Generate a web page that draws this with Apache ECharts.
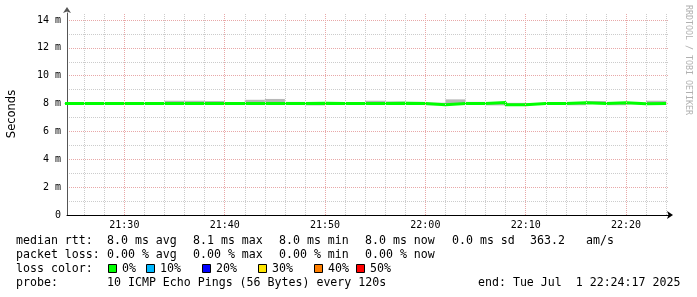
<!DOCTYPE html>
<html><head><meta charset="utf-8">
<script src="https://cdn.jsdelivr.net/npm/echarts@6/dist/echarts.min.js"></script>
<style>html,body{margin:0;padding:0;background:#fff}#c{width:697px;height:297px}</style>
</head><body><div id="c"></div>
<script>
// time in minutes after 21:00
const startMin = 24 + 17/60;   // 21:24:17
const endMin = 84 + 17/60;     // 22:24:17
const stepStarts = [24,26,28,30,32,34,36,38,40,42,44,46,48,50,52,54,56,58,60,62,64,66,68,70,72,74,76,78,80,82,84];
const medianRtt = [8.0,8.0,8.0,8.0,8.0,8.0,8.0,8.0,8.0,8.0,8.0,8.0,8.03,8.0,8.0,8.0,8.02,8.0,7.92,8.0,8.0,8.07,7.92,8.0,8.0,8.05,8.0,8.05,7.98,8.0];
const smokeLow  = [7.97,7.97,7.97,7.97,7.97,7.97,7.97,7.97,7.97,7.97,7.97,7.97,7.87,7.97,7.97,7.97,7.97,7.97,7.88,7.97,7.97,7.87,7.88,7.97,7.97,7.88,7.97,7.88,7.95,7.97];
const smokeHigh = [8.03,8.03,8.03,8.03,8.03,8.2,8.2,8.18,8.1,8.27,8.33,8.12,8.08,8.1,8.1,8.2,8.15,8.12,8.06,8.3,8.12,8.1,8.05,8.03,8.03,8.08,8.18,8.08,8.02,8.2];
const xTickValues = [30,40,50,60,70,80];
const xTickLabels = ['21:30','21:40','21:50','22:00','22:10','22:20'];
const minorXGrid = [26,28,30,32,34,36,38,40,42,44,46,48,50,52,54,56,58,60,62,64,66,68,70,72,74,76,78,80,82,84];
const yMax = 14.5;
const yTickLabels = {0:'0',2:'2 m',4:'4 m',6:'6 m',8:'8 m',10:'10 m',12:'12 m',14:'14 m'};

const legendLines = [
  [[16,'median rtt:'],[107,'8.0 ms avg'],[193,'8.1 ms max'],[279,'8.0 ms min'],[365,'8.0 ms now'],[452,'0.0 ms sd'],[530,'363.2'],[586,'am/s']],
  [[16,'packet loss:'],[107,'0.00 % avg'],[193,'0.00 % max'],[279,'0.00 % min'],[365,'0.00 % now']],
  [[16,'loss color:'],[122,'0%'],[160,'10%'],[216,'20%'],[272,'30%'],[328,'40%'],[370,'50%']],
  [[16,'probe:'],[107,'10 ICMP Echo Pings (56 Bytes) every 120s'],[478,'end: Tue Jul  1 22:24:17 2025']]
];
const lossColors = [[108,'#00ff00'],[146,'#00b8ff'],[202,'#0000ff'],[258,'#ffe600'],[314,'#ff7f00'],[356,'#ff0000']];
const lineY = [241,255,269,283];

const MAJOR = '#e8a8a8', MINOR = '#cccccc';
const mono = '"DejaVu Sans Mono", monospace';

const graphics = [];
legendLines.forEach((segs, li) => segs.forEach(([x, t]) => graphics.push({
  type:'text', x: x, y: lineY[li], silent:true,
  style:{text:t, font:'11.6px ' + mono, fill:'#000', textVerticalAlign:'middle', verticalAlign:'middle'}
})));
lossColors.forEach(([x,c]) => graphics.push({
  type:'rect', shape:{x:x+0.5, y:264.5, width:8, height:8}, silent:true,
  style:{fill:c, stroke:'#000', lineWidth:1}
}));
graphics.push({
  type:'text', x:688, y:5, rotation:-Math.PI/2, silent:true,
  style:{text:'RRDTOOL / TOBI OETIKER', font:'8.3px ' + mono, fill:'#b0b0b0', textVerticalAlign:'middle', verticalAlign:'middle'}
});

const ySplitColors = [];
for (let i = 0; i <= 15; i++) ySplitColors.push(i === 15 ? 'rgba(0,0,0,0)' : (i % 2 === 0 ? MAJOR : MINOR));

const smokeData = smokeLow.map((lo, i) => [stepStarts[i], stepStarts[i+1], lo, smokeHigh[i]]);
const medianData = stepStarts.map((t, i) => [t, medianRtt[Math.min(i, medianRtt.length - 1)]]);

const chart = echarts.init(document.getElementById('c'), null, {renderer:'canvas'});
chart.setOption({
  animation:false,
  backgroundColor:'#fff',
  grid:{left:67, right:28, top:13, bottom:82, containLabel:false, outerBoundsMode:'none'},
  xAxis:{
    type:'value', min:startMin, max:endMin,
    axisLine:{show:true, lineStyle:{color:'#000', width:1}, symbol:['none','arrow'], symbolSize:[6,6], symbolOffset:[0,4]},
    axisTick:{show:false},
    splitLine:{show:false},
    axisLabel:{customValues:xTickValues, formatter:v => xTickLabels[xTickValues.indexOf(Math.round(v))] || '',
      fontFamily:'DejaVu Sans Mono', fontSize:10, color:'#000', margin:5}
  },
  yAxis:{
    type:'value', min:0, max:yMax, interval:1,
    name:'Seconds', nameLocation:'middle', nameGap:49, nameRotate:90,
    nameTextStyle:{fontFamily:'DejaVu Sans', fontSize:11.5, color:'#000'},
    axisLine:{show:true, lineStyle:{color:'#555', width:1}, symbol:['none','arrow'], symbolSize:[6,6], symbolOffset:[0,6]},
    axisTick:{show:false},
    axisLabel:{formatter:v => yTickLabels[v] !== undefined ? yTickLabels[v] : '', fontFamily:'DejaVu Sans Mono', fontSize:10, color:'#000', margin:6},
    splitLine:{show:true, lineStyle:{color:ySplitColors, type:[1,1], width:1}}
  },
  series:[
    {type:'line', data:[], z:1, silent:true,
      markLine:{silent:true, symbol:['none','none'], label:{show:false}, animation:false,
        data: minorXGrid.map(v => ({xAxis:v, lineStyle:{color: (v % 10 === 0) ? MAJOR : MINOR, type:[1,1], width:1}}))}},
    {type:'custom', z:2, silent:true, data:smokeData, encode:{x:[0,1], y:[2,3]},
      renderItem:(params, api) => {
        const p1 = api.coord([api.value(0), api.value(3)]);
        const p2 = api.coord([api.value(1), api.value(2)]);
        return {type:'rect', shape:{x:p1[0], y:p1[1], width:p2[0]-p1[0], height:p2[1]-p1[1]}, style:{fill:'#b8b8b8'}};
      }},
    {type:'line', z:3, step:'end', data:medianData, symbol:'none', silent:true,
      lineStyle:{color:'#00ff00', width:3}}
  ],
  graphic:graphics
});
</script></body></html>
